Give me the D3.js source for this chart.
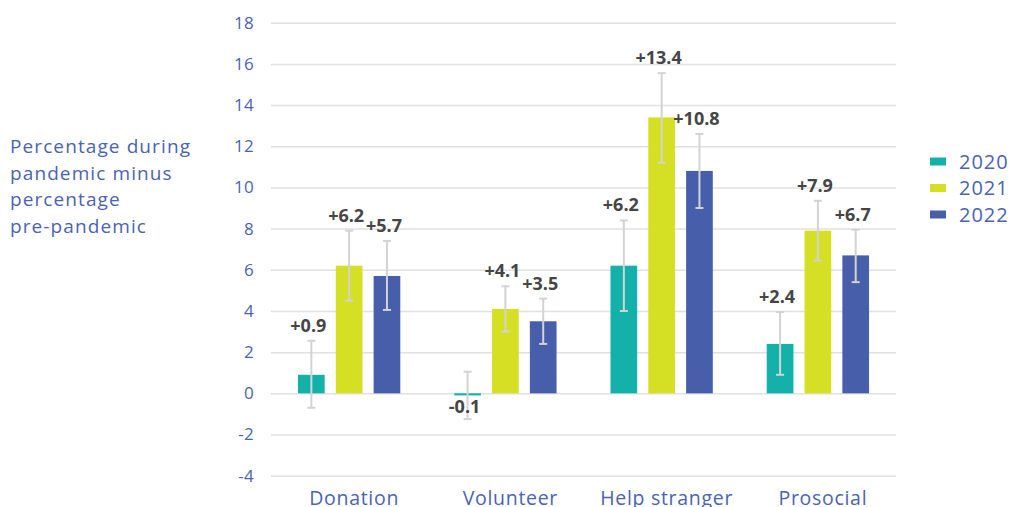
<!DOCTYPE html>
<html>
<head>
<meta charset="utf-8">
<script src="https://cdn.jsdelivr.net/npm/d3@7"></script>
<style>
  body { margin: 0; background: #fff; }
  svg { display: block; }
</style>
</head>
<body>
<script>
// chart data
const categories = ['Donation', 'Volunteer', 'Help stranger', 'Prosocial']
const years = ['2020', '2021', '2022']
const values = {
  '2020': [0.9, -0.1, 6.2, 2.4],
  '2021': [6.2, 4.1, 13.4, 7.9],
  '2022': [5.7, 3.5, 10.8, 6.7],
}
const errLow = {
  '2020': [-0.7, -1.25, 4.0, 0.9],
  '2021': [4.5, 3.0, 11.2, 6.45],
  '2022': [4.05, 2.4, 9.0, 5.4],
}
const errHigh = {
  '2020': [2.55, 1.05, 8.4, 3.95],
  '2021': [7.9, 5.2, 15.55, 9.35],
  '2022': [7.4, 4.6, 12.6, 7.95],
}
const yTicks = [-4, -2, 0, 2, 4, 6, 8, 10, 12, 14, 16, 18]
const yLabelLines = ['Percentage during', 'pandemic minus', 'percentage', 'pre-pandemic']

const WIDTH = 1012
const HEIGHT = 507
const colors = { '2020': '#14b1aa', '2021': '#d5df24', '2022': '#475fab' }
const textBlue = '#4a63b3'
const blueFont = '"Open Sans", sans-serif'

const svg = d3.select('body')
  .append('svg')
  .attr('width', WIDTH)
  .attr('height', HEIGHT)

const x0 = d3.scaleBand()
  .domain(categories)
  .range([271, 896])

const x1 = d3.scaleBand()
  .domain(years)
  .range([27, 129.3])
  .paddingInner(0.294)

const y = d3.scaleLinear()
  .domain([-4, 18])
  .range([475.7, 22.7])

// gridlines + tick labels
const yAxis = svg.append('g')
  .attr('transform', 'translate(271,0)')
  .call(d3.axisLeft(y).tickValues(yTicks).tickSize(-625).tickPadding(17).tickFormat(d => String(d)))
yAxis.select('.domain').remove()
yAxis.selectAll('.tick line').attr('stroke', '#e0e0e0').attr('stroke-width', 1.5)
yAxis.selectAll('.tick text')
  .attr('fill', textBlue)
  .attr('font-family', blueFont)
  .attr('font-size', 17)
  .attr('letter-spacing', 0.3)

// category labels (cut by the bottom edge, like the original)
const xAxis = svg.append('g')
  .attr('transform', 'translate(5,489)')
  .call(d3.axisBottom(x0).tickSize(0).tickPadding(0))
xAxis.select('.domain').remove()
xAxis.selectAll('.tick text')
  .attr('dy', '0.8em')
  .attr('fill', textBlue)
  .attr('font-family', blueFont)
  .attr('font-size', 19.5)
  .attr('letter-spacing', 0.7)

// y title
svg.append('text')
  .attr('fill', textBlue)
  .attr('font-family', blueFont)
  .attr('font-size', 19)
  .attr('letter-spacing', 1.1)
  .selectAll('tspan')
  .data(yLabelLines)
  .join('tspan')
  .attr('x', 10)
  .attr('y', (d, i) => 153 + i * 26.7)
  .text(d => d)

const rows = []
years.forEach(yr => {
  categories.forEach((c, i) => {
    rows.push({ cat: c, year: yr, v: values[yr][i], lo: errLow[yr][i], hi: errHigh[yr][i] })
  })
})

const groups = svg.append('g')
const bx = d => x0(d.cat) + x1(d.year)

groups.selectAll('rect')
  .data(rows)
  .join('rect')
  .attr('x', bx)
  .attr('width', x1.bandwidth())
  .attr('y', d => y(Math.max(0, d.v)))
  .attr('height', d => Math.abs(y(d.v) - y(0)))
  .attr('fill', d => colors[d.year])

// error bars
const err = svg.append('g')
  .attr('stroke', '#d3d3d3')
  .attr('stroke-width', 2)
err.selectAll('line.v')
  .data(rows)
  .join('line')
  .attr('class', 'v')
  .attr('x1', d => bx(d) + x1.bandwidth() / 2)
  .attr('x2', d => bx(d) + x1.bandwidth() / 2)
  .attr('y1', d => y(d.lo))
  .attr('y2', d => y(d.hi))
err.selectAll('line.cap')
  .data(rows.flatMap(d => [{ d, v: d.lo }, { d, v: d.hi }]))
  .join('line')
  .attr('class', 'cap')
  .attr('x1', e => bx(e.d) + x1.bandwidth() / 2 - 4)
  .attr('x2', e => bx(e.d) + x1.bandwidth() / 2 + 4)
  .attr('y1', e => y(e.v))
  .attr('y2', e => y(e.v))

// value labels
svg.append('g')
  .selectAll('text')
  .data(rows)
  .join('text')
  .attr('x', d => bx(d) + x1.bandwidth() / 2 - 3)
  .attr('y', d => d.v < 0 ? y(d.v) + 18 : y(d.hi) - 9)
  .attr('text-anchor', 'middle')
  .attr('font-family', '"Open Sans", sans-serif')
  .attr('font-weight', 'bold')
  .attr('font-size', 18)
  .attr('fill', '#454545')
  .text(d => (d.v > 0 ? '+' : '') + d.v.toFixed(1))

// legend
const legend = svg.append('g')
  .selectAll('g')
  .data(years)
  .join('g')
  .attr('transform', (d, i) => `translate(930,${161.5 + i * 26.5})`)
legend.append('rect')
  .attr('y', -4)
  .attr('width', 16)
  .attr('height', 8)
  .attr('fill', d => colors[d])
legend.append('text')
  .attr('x', 29)
  .attr('dy', '0.36em')
  .attr('fill', textBlue)
  .attr('font-family', blueFont)
  .attr('font-size', 20)
  .attr('letter-spacing', 1)
  .text(d => d)
</script>
</body>
</html>
